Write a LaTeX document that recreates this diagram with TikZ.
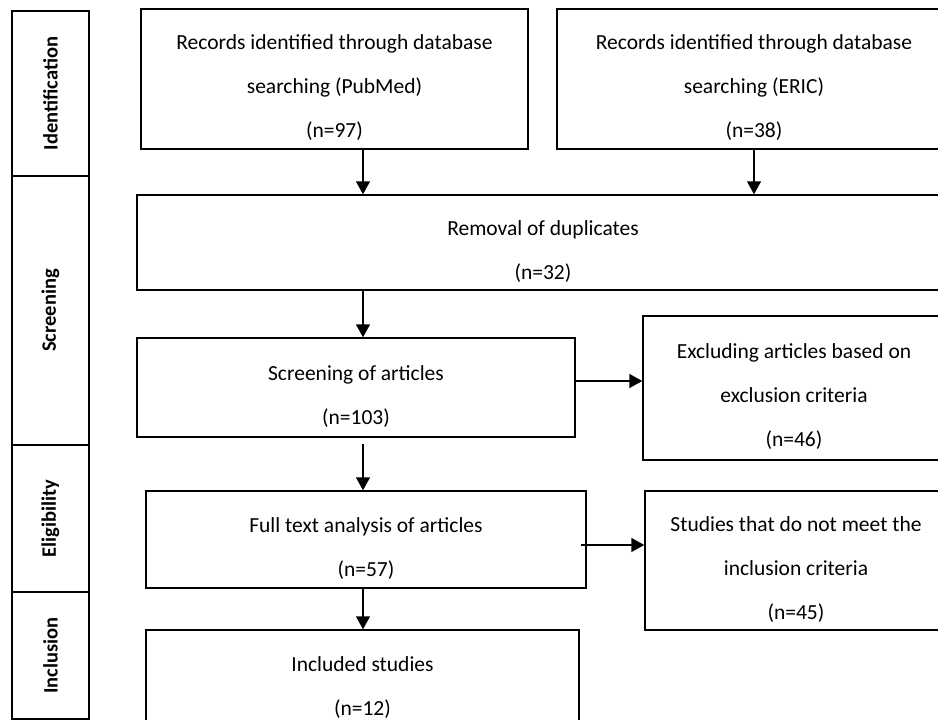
\documentclass[tikz,border=0pt]{standalone}
\usepackage{fontspec}
\setmainfont{Carlito}
\usetikzlibrary{positioning}
\usetikzlibrary{arrows.meta}
\newcommand{\boxlines}[1]{\raisebox{-11pt}[0pt][0pt]{\begin{tabular}{@{}c@{}}#1\end{tabular}}}
\tikzset{stage box/.style={draw,line width=1.5pt,inner sep=0pt,font=\fontsize{21.5}{44}\selectfont},
  side box/.style={draw,line width=1.5pt,inner sep=0pt,rotate=90,minimum height=77pt,font=\fontsize{20.5}{24}\selectfont\bfseries},
  flow/.style={-{Triangle[length=13pt,width=14pt]},line width=1.5pt},}

\begin{document}
\begin{tikzpicture}[x=1pt,y=-1pt]
    \clip (0,0) rectangle (938,720);
    % stages on the left
    \node[side box,minimum width=165pt] (ident) at (50.5,93.5) {Identification};
    \node[side box,minimum width=269pt] (screening) at (50.5,310.5) {Screening};
    \node[side box,minimum width=147pt] (elig) at (50.5,518.5) {Eligibility};
    \node[side box,minimum width=127pt] (inclusion) at (50.5,655.5) {Inclusion};

    % flow boxes
    \node[stage box,minimum width=387pt,minimum height=140pt] (pubmed) at (334.5,79) {\boxlines{Records identified through database\\searching (PubMed)\\(n=97)}};
    \node[stage box,minimum width=394pt,minimum height=140pt] (eric) at (754,79) {\boxlines{Records identified through database\\searching (ERIC)\\(n=38)}};
    \node[stage box,minimum width=812pt,minimum height=95pt] (dedup) at (543,242.5) {\boxlines{Removal of duplicates\\(n=32)}};
    \node[stage box,minimum width=438pt,minimum height=99pt] (screen) at (356,387.5) {\boxlines{Screening of articles\\(n=103)}};
    \node[stage box,minimum width=302pt,minimum height=144pt] (excl) at (794,388) {\boxlines{Excluding articles based on\\exclusion criteria\\(n=46)}};
    \node[stage box,minimum width=440pt,minimum height=97pt] (full) at (366,539.5) {\boxlines{Full text analysis of articles\\(n=57)}};
    \node[stage box,minimum width=302pt,minimum height=139pt] (studies) at (796,560.5) {\boxlines{Studies that do not meet the\\inclusion criteria\\(n=45)}};
    \node[stage box,minimum width=433pt,minimum height=98pt] (incl) at (362.5,679) {\boxlines{Included studies\\(n=12)}};

    \coordinate (spine) at (363,0);
    \draw[flow] (spine |- pubmed.south) -- (spine |- dedup.north);
    \draw[flow] (eric.south) -- (eric.south |- dedup.north);
    \draw[flow] (spine |- dedup.south) -- (spine |- screen.north);
    \draw[flow] ([yshift=-6pt]spine |- screen.south) -- (spine |- full.north);
    \draw[flow] (spine |- full.south) -- (spine |- incl.north);
    \draw[flow] ([yshift=6.5pt]screen.east) -- ([yshift=6.5pt]screen.east -| excl.west);
    \draw[flow] ([xshift=-6pt,yshift=-5.5pt]full.east) -- ([yshift=-5.5pt]full.east -| studies.west);
\end{tikzpicture}
\end{document}
